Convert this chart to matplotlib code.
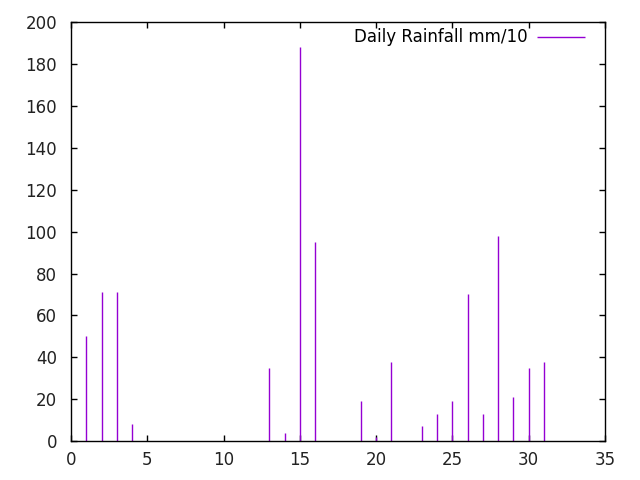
import matplotlib
matplotlib.use("Agg")
import matplotlib.pyplot as plt

days = [1, 2, 3, 4, 13, 14, 15, 16, 19, 20, 21, 23, 24, 25, 26, 27, 28, 29, 30, 31]
rain = [50, 71, 71, 8, 35, 4, 188, 95, 19, 2, 38, 7, 13, 19, 70, 13, 98, 21, 35, 38]

xTicks = [0, 5, 10, 15, 20, 25, 30, 35]
yTicks = [0, 20, 40, 60, 80, 100, 120, 140, 160, 180, 200]


def main():
    plt.rcParams["font.family"] = ["DejaVu Sans"]
    fig = plt.figure(figsize=(6.4, 4.8), dpi=100)
    ax = fig.add_axes([0.111, 0.081, 0.834, 0.873])

    ax.vlines(days, 0, rain, colors="#9400d3", linewidth=1.0, label="Daily Rainfall mm/10")

    ax.set_xlim(0, 35)
    ax.set_ylim(0, 200)
    ax.set_xticks(xTicks)
    ax.set_yticks(yTicks)
    ax.tick_params(direction="in", top=True, right=True, labelsize=12, length=4.5, width=1,
                   colors="black", labelcolor="#222222")
    ax.tick_params(axis="x", pad=7)
    ax.tick_params(axis="y", pad=10)
    for s in ax.spines.values():
        s.set_linewidth(1)

    ax.legend(loc="upper right", bbox_to_anchor=(0.9888, 1.0167), frameon=False,
              markerfirst=False, fontsize=12, handlelength=2.9, handletextpad=0.6,
              borderaxespad=0.5, borderpad=0.3)

    fig.savefig("out.png", dpi=100)


if __name__ == "__main__":
    main()
